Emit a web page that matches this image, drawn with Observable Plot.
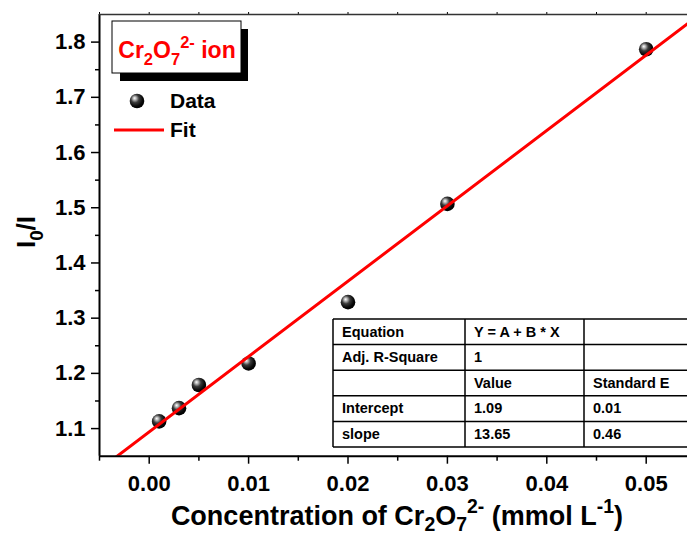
<!DOCTYPE html>
<html>
<head>
<meta charset="utf-8">
<script src="https://cdn.jsdelivr.net/npm/d3@7"></script>
<script src="https://cdn.jsdelivr.net/npm/@observablehq/plot@0.6"></script>
<style>
  html, body { margin: 0; padding: 0; background: #fff; overflow: hidden; }
  #chart { position: relative; width: 687px; height: 536px; overflow: hidden; }
  #chart svg { max-width: none !important; }
</style>
</head>
<body>
<div id="chart"></div>
<script>
// Stern–Volmer quenching data for the dichromate ion
const concentration = [0.001, 0.003, 0.005, 0.01, 0.02, 0.03, 0.05];
const ratio = [1.113, 1.137, 1.179, 1.218, 1.329, 1.507, 1.787];

// Linear fit results
const fitIntercept = 1.094;
const fitSlope = 13.65;
const interceptError = 0.01;
const slopeError = 0.46;
const adjRSquare = 1;

// Axis extents and ticks
const xDomain = [-0.005, 0.055];
const yDomain = [1.05, 1.85];
const xMajorTicks = [0, 0.01, 0.02, 0.03, 0.04, 0.05];
const xMinorTicks = [-0.005, 0.005, 0.015, 0.025, 0.035, 0.045];
const xTopTicks = [-0.005, 0, 0.005, 0.01, 0.015, 0.02, 0.025, 0.03, 0.035, 0.04, 0.045, 0.05];
const yMajorTicks = [1.1, 1.2, 1.3, 1.4, 1.5, 1.6, 1.7, 1.8];
const yMinorTicks = [1.15, 1.25, 1.35, 1.45, 1.55, 1.65, 1.75];

const FONT = "'Liberation Sans', Arial, Helvetica, sans-serif";

const points = concentration.map((c, i) => ({c, r: ratio[i]}));
const fitLine = xDomain.map(c => ({c, r: fitIntercept + fitSlope * c}));

const plot = Plot.plot({
  width: 700,
  height: 536,
  marginLeft: 99,
  marginRight: 4.6,
  marginTop: 14,
  marginBottom: 80.3,
  x: {domain: xDomain},
  y: {domain: yDomain},
  style: {fontFamily: FONT, fontWeight: "bold", fontSize: "22px", color: "#000", background: "#fff", maxWidth: "none", overflow: "visible"},
  marks: [
    Plot.dot(points, {x: "c", y: "r", r: 7.3, fill: "url(#ball)", stroke: null}),
    Plot.line(fitLine, {x: "c", y: "r", stroke: "#ff0000", strokeWidth: 3, clip: true}),
    Plot.axisX(xMajorTicks, {tickSize: 8, tickPadding: 11, strokeWidth: 1.5, tickFormat: d => d.toFixed(2), label: null}),
    Plot.axisX(xMinorTicks, {tickSize: 5, strokeWidth: 1.5, tickFormat: () => "", label: null}),
    Plot.axisX(xTopTicks, {anchor: "top", tickSize: 3, strokeWidth: 1, tickFormat: () => "", label: null}),
    Plot.axisY(yMajorTicks, {tickSize: 8, tickPadding: 6, strokeWidth: 1.5, tickFormat: d => d.toFixed(1), label: null}),
    Plot.axisY(yMinorTicks, {tickSize: 4, strokeWidth: 1.5, tickFormat: () => "", label: null}),
    Plot.ruleX([xDomain[0]], {stroke: "#000", strokeWidth: 2}),
    Plot.ruleY([yDomain[0]], {stroke: "#000", strokeWidth: 2}),
    Plot.ruleY([yDomain[1]], {stroke: "#333", strokeWidth: 1.5})
  ]
});

document.getElementById("chart").appendChild(plot);

const svg = d3.select(plot).style("max-width", "none");

// Shaded sphere used for the data markers
const grad = svg.insert("defs", ":first-child").append("radialGradient")
  .attr("id", "ball").attr("cx", "40%").attr("cy", "38%").attr("r", "62%")
  .attr("fx", "33%").attr("fy", "30%");
[[0, "#ffffff"], [0.18, "#b8b8b8"], [0.45, "#3a3a3a"], [0.8, "#080808"], [1, "#000000"]]
  .forEach(([o, col]) => grad.append("stop").attr("offset", o).attr("stop-color", col));

// Text with sub/superscripts: parts are [string, "sub" | "sup" | null]
function richText(g, x, y, size, parts, opts = {}) {
  const t = g.append("text")
    .attr("x", x).attr("y", y)
    .attr("font-family", FONT).attr("font-weight", "bold")
    .attr("font-size", size)
    .attr("fill", opts.fill || "#000")
    .attr("text-anchor", opts.anchor || "start");
  if (opts.transform) t.attr("transform", opts.transform);
  const subShift = opts.sub != null ? opts.sub : 0.3;
  let shift = 0;
  for (const [s, kind] of parts) {
    const target = kind === "sub" ? size * subShift : kind === "sup" ? -size * 0.45 : 0;
    t.append("tspan").text(s).attr("dy", target - shift)
      .attr("font-size", kind ? size * 0.72 : size);
    shift = target;
  }
  return t;
}

// Axis titles
richText(svg, 397, 525, 27, [
  ["Concentration of Cr", null], ["2", "sub"], ["O", null], ["7", "sub"], ["2-", "sup"],
  [" (mmol L", null], ["-1", "sup"], [")", null]
], {anchor: "middle", sub: 0.24});

richText(svg, 0, 0, 26, [["I", null], ["0", "sub"], ["/I", null]],
  {anchor: "middle", transform: "translate(35,232) rotate(-90)"});

// Legend: title box with drop shadow, then symbol rows
const legend = svg.append("g");
legend.append("rect").attr("x", 120).attr("y", 29).attr("width", 128).attr("height", 52).attr("fill", "#000");
legend.append("rect").attr("x", 112).attr("y", 21).attr("width", 129).attr("height", 52)
  .attr("fill", "#fff").attr("stroke", "#000").attr("stroke-width", 1);
richText(legend, 177, 58, 23, [
  ["Cr", null], ["2", "sub"], ["O", null], ["7", "sub"], ["2-", "sup"], [" ion", null]
], {anchor: "middle", fill: "#ff0000"});

legend.append("circle").attr("cx", 137).attr("cy", 101).attr("r", 7.3).attr("fill", "url(#ball)");
richText(legend, 170, 108, 21, [["Data", null]]);
legend.append("line").attr("x1", 114).attr("x2", 164).attr("y1", 130).attr("y2", 130)
  .attr("stroke", "#ff0000").attr("stroke-width", 3);
richText(legend, 170, 137, 21, [["Fit", null]]);

// Fit parameter table
const tableRows = [
  ["Equation", "Y = A + B * X", ""],
  ["Adj. R-Square", String(adjRSquare), ""],
  ["", "Value", "Standard E"],
  ["Intercept", fitIntercept.toFixed(2), interceptError.toFixed(2)],
  ["slope", fitSlope.toFixed(2), slopeError.toFixed(2)]
];
const colX = [333, 465, 584, 703];
const rowTop = 319, rowH = 25.6;
const table = svg.append("g");
table.append("rect").attr("x", colX[0]).attr("y", rowTop)
  .attr("width", colX[3] - colX[0]).attr("height", rowH * tableRows.length)
  .attr("fill", "#fff").attr("stroke", "none");
for (let i = 0; i <= tableRows.length; i++) {
  table.append("line").attr("x1", colX[0]).attr("x2", colX[3])
    .attr("y1", rowTop + i * rowH).attr("y2", rowTop + i * rowH)
    .attr("stroke", "#000").attr("stroke-width", 1.5);
}
colX.forEach(x => table.append("line").attr("x1", x).attr("x2", x)
  .attr("y1", rowTop).attr("y2", rowTop + rowH * tableRows.length)
  .attr("stroke", "#000").attr("stroke-width", 1.5));
tableRows.forEach((row, i) => row.forEach((cell, j) => {
  if (!cell) return;
  table.append("text").attr("x", colX[j] + 9).attr("y", rowTop + i * rowH + 17.5)
    .attr("text-anchor", "start")
    .attr("font-family", FONT).attr("font-weight", "bold").attr("font-size", 14.5)
    .attr("fill", "#000").text(cell);
}));
</script>
</body>
</html>
